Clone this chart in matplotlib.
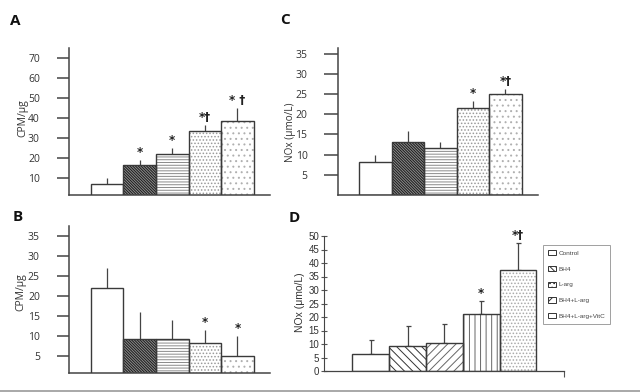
import matplotlib
matplotlib.use('Agg')
import matplotlib.pyplot as plt
from matplotlib.patches import Patch
import numpy as np

groups = ['Control', 'BH4', 'L-arg', 'BH4+L-arg', 'BH4+L-arg+VitC']

# panel A: CPM/ug
a_vals = [6.8, 16.3, 21.7, 33.5, 38.2]
a_err = [3.2, 2.7, 3.3, 2.8, 6.8]
a_marks = ['', '*', '*', '*\u2020', '* \u2020']

# panel B: CPM/ug
b_vals = [21.9, 9.2, 9.2, 8.3, 5.0]
b_err = [5.0, 6.8, 4.9, 3.3, 5.0]
b_marks = ['', '', '', '*', '*']

# panel C: NOx
c_vals = [8.1, 13.1, 11.6, 21.5, 24.9]
c_err = [1.7, 2.7, 1.6, 1.9, 1.4]
c_marks = ['', '', '', '*', '*\u2020']

# panel D: NOx
d_vals = [6.2, 9.4, 10.3, 21.2, 37.5]
d_err = [5.1, 7.3, 7.2, 4.8, 10.0]
d_marks = ['', '', '', '*', '*\u2020']

hatch_abc = ['', '\\\\\\\\\\\\\\\\\\\\\\\\', '------', '.....', '...']
hcol_abc = ['#333333', '#1a1a1a', '#8a8a8a', '#9a9a9a', '#b0b0b0']
face_abc = ['white', '#8c8c8c', 'white', 'white', 'white']
hatch_d = ['', '\\\\\\\\', '////', '|||', '.....']
hcol_d = ['#333333', '#333333', '#666666', '#666666', '#aaaaaa']
face_d = ['white'] * 5

plt.rcParams['hatch.linewidth'] = 0.7
plt.rcParams['font.family'] = ['Open Sans', 'DejaVu Sans']

W, H = 640, 392
fig = plt.figure(figsize=(6.4, 3.92), dpi=100)


def px_axes(x0, y0, x1, y1):
    return fig.add_axes([x0 / W, 1 - y1 / H, (x1 - x0) / W, (y1 - y0) / H])


def panel(ax, vals, err, marks, hatches, hcols, faces, ylim, yticks, xlim,
          caps, tickfont='Open Sans', tsize=7.5):
    x = np.arange(len(vals))
    for i in range(len(vals)):
        # hatch layer (hatch takes the edge colour), then the outline
        ax.bar(x[i], vals[i], width=1.0, color=faces[i], edgecolor=hcols[i],
               linewidth=0, hatch=hatches[i], zorder=2)
        ax.bar(x[i], vals[i], width=1.0, fill=False, edgecolor='#3a3a3a',
               linewidth=1.0, zorder=3)
    ax.errorbar(x, vals, yerr=[np.zeros(len(vals)), err], fmt='none',
                ecolor='#444444', elinewidth=0.9, capsize=caps, capthick=0.9,
                zorder=1)
    for i in range(len(vals)):
        if marks[i]:
            ax.annotate(marks[i], (x[i], vals[i] + err[i]), xytext=(0, 0.5),
                        textcoords='offset points', ha='center', va='bottom',
                        fontsize=8.5, fontweight='bold', color='#222222',
                        family=['DejaVu Sans'])
    ax.set_xlim(*xlim)
    ax.set_ylim(*ylim)
    ax.set_yticks(yticks)
    for s in ['top', 'right']:
        ax.spines[s].set_visible(False)
    for s in ['left', 'bottom']:
        ax.spines[s].set_color('#444444')
        ax.spines[s].set_linewidth(1.1)
    ax.set_xticks([])
    for lab in ax.get_yticklabels():
        lab.set_family([tickfont, 'DejaVu Sans'])
        lab.set_fontsize(tsize)
        lab.set_color('#333333')


axA = px_axes(69, 48, 270, 195)
panel(axA, a_vals, a_err, a_marks, hatch_abc, hcol_abc, face_abc,
      (1.35, 74.9), range(10, 71, 10), (-1.17, 5.0), 0)
axA.tick_params(axis='y', length=9, width=1.1, color='#444444', pad=12)

axB = px_axes(69, 226, 270, 373)
panel(axB, b_vals, b_err, b_marks, hatch_abc, hcol_abc, face_abc,
      (0.75, 37.5), range(5, 36, 5), (-1.17, 5.0), 0)
axB.tick_params(axis='y', length=9, width=1.1, color='#444444', pad=12)

axC = px_axes(338, 48, 538, 195)
panel(axC, c_vals, c_err, c_marks, hatch_abc, hcol_abc, face_abc,
      (0, 36.4), range(5, 36, 5), (-1.15, 5.0), 0)
axC.tick_params(axis='y', length=10, width=1.1, color='#444444', pad=12)

axD = px_axes(324, 236, 564, 371)
panel(axD, d_vals, d_err, d_marks, hatch_d, hcol_d, face_d, (0, 50),
      range(0, 51, 5), (-1.27, 5.25), 1.8, tickfont='Liberation Sans', tsize=7)
axD.tick_params(axis='y', direction='inout', length=5, width=0.8,
                color='#555555', pad=1)
axD.set_xticks([5.25])
axD.set_xticklabels([''])
axD.tick_params(axis='x', direction='out', length=4, width=0.8, color='#555555')
axD.spines['left'].set_linewidth(0.8)
axD.spines['bottom'].set_linewidth(0.9)

# axis titles
fig.text(23 / W, 1 - 118 / H, 'CPM/\u03bcg', rotation=90, ha='center',
         va='center', fontsize=7.5, color='#333333')
fig.text(21 / W, 1 - 292 / H, 'CPM/\u03bcg', rotation=90, ha='center',
         va='center', fontsize=7.5, color='#333333')
fig.text(291 / W, 1 - 132 / H, 'NOx (\u03bcmo/L)', rotation=90, ha='center',
         va='center', fontsize=7.2, color='#333333')
fig.text(300 / W, 1 - 302 / H, 'NOx (\u03bcmo/L)', rotation=90, ha='center',
         va='center', fontsize=7.5, color='#333333',
         family=['Liberation Sans', 'DejaVu Sans'])

# panel letters
for lab, (px, py) in {'A': (15, 21), 'C': (285, 20), 'B': (18, 217),
                      'D': (294, 218)}.items():
    fig.text(px / W, 1 - py / H, lab, ha='center', va='center', fontsize=11,
             fontweight='bold', color='#111111')

# legend
handles = [Patch(facecolor='white', edgecolor='#333333', hatch=h, linewidth=0.7)
           for h in ['', '\\\\\\\\\\\\', '....', '//', '']]
leg = fig.legend(handles, groups, loc='upper left',
                 bbox_to_anchor=(543 / W, 1 - 245 / H), frameon=True,
                 fancybox=False, edgecolor='#888888',
                 handlelength=1.3, handleheight=0.9, labelspacing=1.55,
                 handletextpad=0.3, borderpad=0.8, borderaxespad=0,
                 prop={'family': ['Liberation Sans', 'DejaVu Sans'], 'size': 4.6})
leg.get_frame().set_linewidth(0.7)
for t in leg.get_texts():
    t.set_color('#444444')

# bottom rule
fig.add_artist(plt.Line2D([0, 1], [1 - 390.5 / H, 1 - 390.5 / H],
                          color='#999999', linewidth=1.2,
                          transform=fig.transFigure))

fig.savefig('out.png', dpi=100)
